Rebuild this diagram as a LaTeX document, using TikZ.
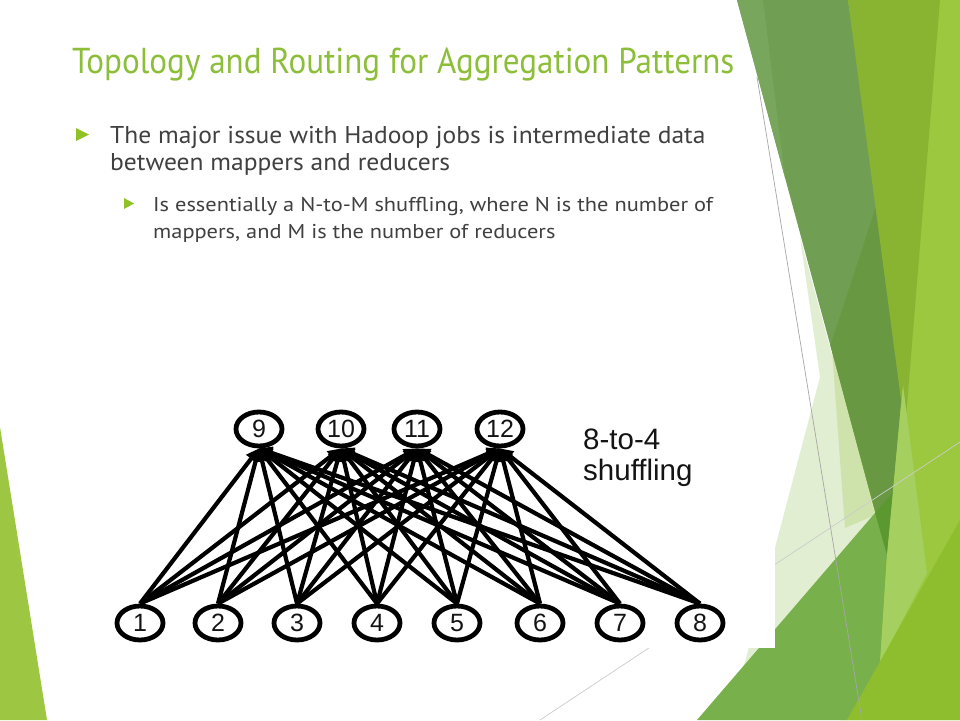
\documentclass[tikz,border=0pt]{standalone}
\usepackage{fontspec}
\setmainfont{PT Sans}
\newfontfamily\ttlfont[FakeStretch=0.92]{PT Sans}
\newfontfamily\bodyfont[FakeStretch=1.05]{PT Sans}
\newfontfamily\subfont[FakeStretch=1.12]{PT Sans}
\newfontfamily\figfont{Liberation Sans}
\usetikzlibrary{shapes.geometric,arrows.meta}
\definecolor{ttl}{RGB}{141,190,58}
\definecolor{bul}{RGB}{144,194,38}
\definecolor{txt}{RGB}{64,64,64}
\definecolor{darkband}{RGB}{112,159,84}
\definecolor{darkstrip}{RGB}{120,166,92}
\definecolor{darkinner}{RGB}{104,152,66}
\definecolor{medlime}{RGB}{136,180,50}
\definecolor{brightlime}{RGB}{155,200,63}
\definecolor{biggreen}{RGB}{120,177,75}
\definecolor{yellowgreen}{RGB}{142,190,45}
\definecolor{lightlime}{RGB}{165,207,95}
\definecolor{paleA}{RGB}{226,238,209}
\definecolor{paleB}{RGB}{206,226,172}
\definecolor{deepspot}{RGB}{92,152,48}
\definecolor{lefttri}{RGB}{157,199,67}
\definecolor{figtxt}{RGB}{20,20,20}
\tikzset{
  ell/.style={ellipse, draw=black, fill=white, line width=4.8pt, minimum width=46pt, minimum height=34pt, inner sep=0pt, text=figtxt, font=\figfont\fontsize{25}{25}\selectfont},
  conn/.style={line width=4.2pt, draw=black, -{Triangle[length=13pt,width=12pt]}},
  ttltext/.style={anchor=base west, inner sep=0pt, text=ttl, font=\ttlfont\fontsize{36}{40}\selectfont},
  bodytext/.style={anchor=base west, inner sep=0pt, text=txt, font=\bodyfont\fontsize{24.3}{28}\selectfont},
  subtext/.style={anchor=base west, inner sep=0pt, text=txt, font=\subfont\fontsize{20}{24}\selectfont},
  lbltext/.style={anchor=base west, inner sep=0pt, text=figtxt, font=\figfont\fontsize{29.5}{32}\selectfont}
}
\begin{document}
\begin{tikzpicture}[x=1pt,y=-1pt]
\useasboundingbox (0,0) rectangle (960,720);
\fill[white] (0,0) rectangle (960,720);
% ---- background facets ----
\fill[lefttri] (0,427) -- (47,720) -- (0,720) -- cycle;
\fill[brightlime] (848,0) -- (960,0) -- (960,720) -- (840,720) -- cycle;
\fill[paleA] (800,237) -- (820,377) -- (735,700) -- (875,513) -- cycle;
\fill[paleB] (832,350) -- (875,515) -- (845,528) -- cycle;
\fill[darkband] (737,0) -- (848,0) -- (903,380) -- (887,555) -- cycle;
\begin{scope}
  \clip (737,0) -- (848,0) -- (903,380) -- (887,555) -- cycle;
  \fill[darkstrip] (737,0) -- (763,0) -- (800,300) -- (780,300) -- cycle;
  \fill[darkinner] (888,170) -- (910,400) -- (887,560) -- (760,560) -- cycle;
\end{scope}
\fill[medlime] (848,0) -- (940,0) -- (905,430) -- cycle;
\fill[biggreen] (697,720) -- (875,513) -- (887,555) -- (880,663) -- (847,720) -- cycle;
\fill[deepspot] (875,513) -- (893,492) -- (887,555) -- cycle;
\fill[lightlime] (903,385) -- (927,573) -- (880,663) -- (887,555) -- cycle;
\fill[yellowgreen] (847,720) -- (960,520) -- (960,720) -- cycle;
\draw[gray!70, line width=0.7pt] (757,77) -- (862,720);
\draw[gray!40, line width=0.7pt] (540,720) -- (960,442);
% ---- text ----
\node[ttltext] (title) at (72,73) {Topology and Routing for Aggregation Patterns};
\fill[bul] (76,128) -- (89,134.5) -- (76,141) -- cycle;
\node[bodytext] (b1a) at (110,143) {The major issue with Hadoop jobs is intermediate data};
\node[bodytext] (b1b) at (110,170) {between mappers and reducers};
\fill[bul] (124,198) -- (134,203.5) -- (124,209) -- cycle;
\node[subtext] (s1a) at (153,211) {Is essentially a N-to-M shuffling, where N is the number of};
\node[subtext] (s1b) at (153,238) {mappers, and M is the number of reducers};
% ---- figure ----
\fill[white] (100,392) rectangle (775,648);
\node[ell] (n9) at (259,429) {9};
\node[ell] (n10) at (341,429) {10};
\node[ell] (n11) at (417,429) {11};
\node[ell] (n12) at (500,429) {12};
\node[ell] (n1) at (140,623) {1};
\node[ell] (n2) at (218,623) {2};
\node[ell] (n3) at (297,623) {3};
\node[ell] (n4) at (377,623) {4};
\node[ell] (n5) at (457,623) {5};
\node[ell] (n6) at (540,623) {6};
\node[ell] (n7) at (620,623) {7};
\node[ell] (n8) at (700,623) {8};
\foreach \b in {1,...,8}{
  \foreach \t in {9,...,12}{
    \draw[conn] (n\b.north) -- (n\t.south);
  }
}
\node[lbltext] (lbl1) at (583,449) {8-to-4};
\node[lbltext] (lbl2) at (583,480) {shuffling};
\end{tikzpicture}
\end{document}
